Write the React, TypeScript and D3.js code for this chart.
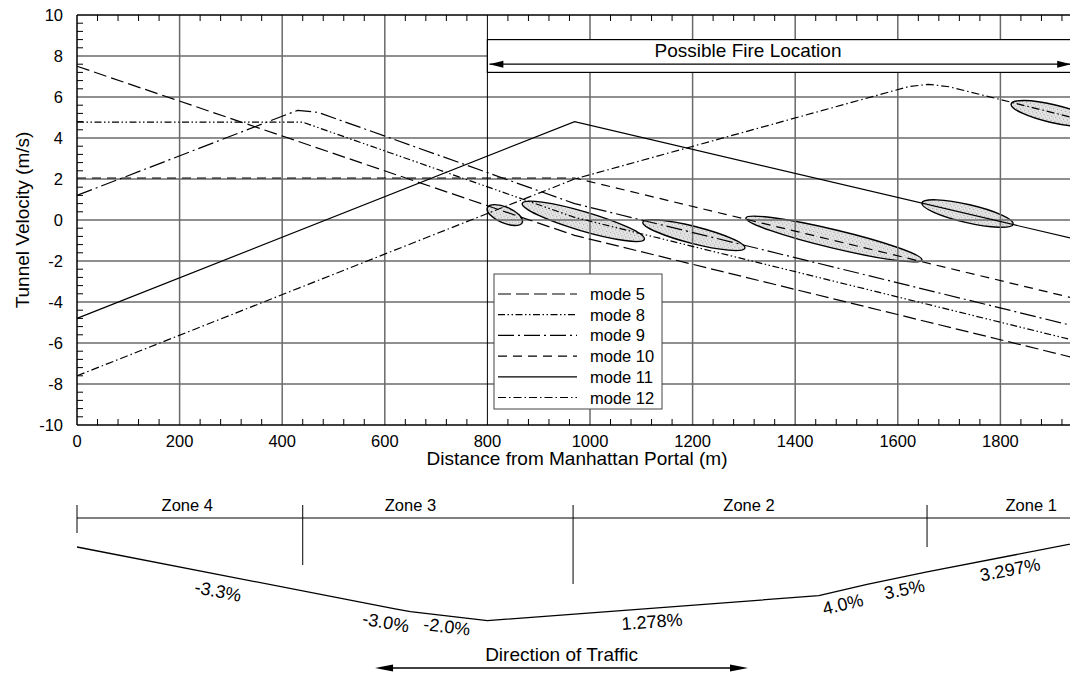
import React from 'react';
import * as d3 from 'd3';

// axis ticks
const xTicks = [0, 200, 400, 600, 800, 1000, 1200, 1400, 1600, 1800];
const yTicks = [-10, -8, -6, -4, -2, 0, 2, 4, 6, 8, 10];

// tunnel velocity per ventilation mode: [distance (m), velocity (m/s)]
const modeNames = ['mode 5', 'mode 8', 'mode 9', 'mode 10', 'mode 11', 'mode 12'];
const mode5 = [[0, 7.5], [970, -0.75], [1940, -6.7]];
const mode8 = [[0, 4.77], [440, 4.77], [970, 0.13], [1940, -5.85]];
const mode9 = [[0, 1.2], [430, 5.35], [470, 5.25], [970, 0.8], [1940, -5.15]];
const mode10 = [[0, 2.05], [970, 2.05], [1940, -3.8]];
const mode11 = [[0, -4.8], [970, 4.8], [1940, -0.9]];
const mode12 = [[0, -7.6], [970, 2.0], [1620, 6.5], [1660, 6.62], [1700, 6.5], [1940, 5.0]];
const modeData = [mode5, mode8, mode9, mode10, mode11, mode12];
const modeDash = ['13,5', '7,2.5,1.5,2.5,1.5,2.5', '16,4,2,4', '9,6', 'none', '8,3,1.5,3'];

// fire zones: two ends on a mode line [x1, v1, x2, v2] and half thickness (m/s)
const fireEllipses = [
  [800, 0.6, 868, -0.12, 0.39],
  [868, 0.81, 1106, -0.94, 0.47],
  [1103, -0.1, 1302, -1.37, 0.42],
  [1304, 0.1, 1647, -1.95, 0.45],
  [1647, 0.83, 1825, -0.2, 0.44],
  [1821, 5.66, 1981, 4.73, 0.44],
];
const fireRange = [800, 1950];

// tunnel profile below the chart
const zoneBounds = [0, 440, 967, 1657];
const zoneNames = ['Zone 4', 'Zone 3', 'Zone 2', 'Zone 1'];
const zoneLabelAt = [215, 650, 1310, 1860];
const gradeStations = [0, 620, 650, 800, 1446, 1540, 1657, 1950];
const grades = [-3.3, -3.0, -2.0, 1.278, 4.0, 3.5, 3.297];
const gradeLabels = ['-3.3%', '-3.0%', '-2.0%', '1.278%', '4.0%', '3.5%', '3.297%'];
const gradeLabelAt = [275, 602, 721, 1121, 1493, 1613, 1819];
const gradeLabelDrop = [23, 21.5, 17, 19.5, 20.5, 19, 20];
const trafficRange = [581, 1308];

const FONT = 'Arial, "Liberation Sans", Helvetica, sans-serif';
const VEX = 5.894; // vertical exaggeration of the profile sketch

function arrowHead(px: number, py: number, dir: number, len: number, half: number) {
  return `M${px},${py} L${px - dir * len},${py - half} L${px - dir * len},${py + half} Z`;
}

export default function App() {
  const W = 1070;
  const H = 674;
  const x = d3.scaleLinear().domain([0, 2000]).range([77, 1103]);
  const y = d3.scaleLinear().domain([-10, 10]).range([425, 15]);
  const line = d3.line<number[]>().x(d => x(d[0])).y(d => y(d[1]));

  const left = x(0);
  const right = W;
  const top = y(10);
  const bottom = y(-10);

  const minorX = d3.range(0, 2000, 40).filter(v => v % 200 !== 0);
  const minorY = d3.range(0, 51).map(i => -10 + i * 0.4).filter(v => Math.abs(v / 2 - Math.round(v / 2)) > 0.01);

  // profile points
  const profileY0 = 547;
  const prof: number[][] = [];
  let py = profileY0;
  gradeStations.forEach((s, i) => {
    if (i > 0) {
      const dx = x(s) - x(gradeStations[i - 1]);
      py -= (grades[i - 1] / 100) * dx * VEX;
    }
    prof.push([x(s), py]);
  });
  const profAt = (px: number) => {
    for (let i = 1; i < prof.length; i++) {
      if (px <= prof[i][0]) {
        const t = (px - prof[i - 1][0]) / (prof[i][0] - prof[i - 1][0]);
        return prof[i - 1][1] + t * (prof[i][1] - prof[i - 1][1]);
      }
    }
    return prof[prof.length - 1][1];
  };

  const zoneLineY = 518;
  const zoneStubTop = 505;
  const zoneStubEnd = [533, 565, 584, 547];

  const fireTop = y(8.8);
  const fireBot = y(7.2);
  const fireArrowY = y(7.6);

  const legX = 494, legY = 274, legW = 168, legH = 135;

  return (
    <svg width={W} height={H} style={{ position: 'absolute', left: 0, top: 0, background: '#fff' }} fontFamily={FONT}>
      <defs>
        <pattern id="stipple" width="4" height="4" patternUnits="userSpaceOnUse">
          <rect width="4" height="4" fill="#e2e2e2" />
          <rect x="0" y="0" width="1" height="1" fill="#9c9c9c" />
          <rect x="2" y="2" width="1" height="1" fill="#b4b4b4" />
          <rect x="3" y="1" width="1" height="1" fill="#f4f4f4" />
        </pattern>
      </defs>

      {/* fire zones */}
      {fireEllipses.map((e, i) => {
        const x1 = x(e[0]), y1 = y(e[1]), x2 = x(e[2]), y2 = y(e[3]);
        const cx = (x1 + x2) / 2, cy = (y1 + y2) / 2;
        const rx = Math.hypot(x2 - x1, y2 - y1) / 2;
        const ry = y(0) - y(e[4]);
        const ang = (Math.atan2(y2 - y1, x2 - x1) * 180) / Math.PI;
        return (
          <ellipse key={i} cx={cx} cy={cy} rx={rx} ry={ry} transform={`rotate(${ang},${cx},${cy})`}
            fill="url(#stipple)" stroke="#000" strokeWidth={1.4} />
        );
      })}

      {/* grid */}
      {yTicks.filter(v => v > -10 && v < 10).map(v => (
        <line key={'gy' + v} x1={left} x2={right} y1={y(v)} y2={y(v)} stroke="#6a6a6a" strokeWidth={1.5} />
      ))}
      {xTicks.filter(v => v > 0).map(v => (
        <line key={'gx' + v} x1={x(v)} x2={x(v)} y1={top} y2={bottom}
          stroke={v === fireRange[0] ? '#000' : '#6a6a6a'} strokeWidth={v === fireRange[0] ? 1 : 1.5} />
      ))}

      {/* minor ticks */}
      {minorX.map(v => (
        <g key={'mx' + v}>
          <line x1={x(v)} x2={x(v)} y1={bottom} y2={bottom - 6} stroke="#000" />
          <line x1={x(v)} x2={x(v)} y1={top} y2={top + 6} stroke="#000" />
        </g>
      ))}
      {minorY.map(v => (
        <line key={'my' + v} x1={left} x2={left + 6} y1={y(v)} y2={y(v)} stroke="#000" />
      ))}

      {/* frame */}
      <line x1={left} x2={left} y1={top} y2={bottom} stroke="#000" strokeWidth={1.5} />
      <line x1={left} x2={right} y1={top} y2={top} stroke="#000" strokeWidth={1.5} />
      <line x1={left} x2={right} y1={bottom} y2={bottom} stroke="#000" strokeWidth={1.5} />

      {/* mode lines */}
      {modeData.map((d, i) => (
        <path key={'m' + i} d={line(d) || ''} fill="none" stroke="#000" strokeWidth={1.2}
          strokeDasharray={modeDash[i]} />
      ))}

      {/* possible fire location */}
      <rect x={x(fireRange[0])} y={fireTop} width={x(fireRange[1]) - x(fireRange[0])} height={fireBot - fireTop}
        fill="#fff" stroke="#000" strokeWidth={1.2} />
      <line x1={x(fireRange[0]) + 2} x2={x(1938)} y1={fireArrowY} y2={fireArrowY} stroke="#000" strokeWidth={1.3} />
      <path d={arrowHead(x(fireRange[0]) + 2, fireArrowY, -1, 14, 3.5)} fill="#000" />
      <path d={arrowHead(x(1938), fireArrowY, 1, 14, 3.5)} fill="#000" />
      <text x={748} y={fireTop + 17} textAnchor="middle" fontSize={19} fill="#000">Possible Fire Location</text>

      {/* legend */}
      <rect x={legX} y={legY} width={legW} height={legH} fill="#fff" stroke="#444" strokeWidth={1} />
      {modeNames.map((n, i) => {
        const ly = legY + 20 + i * 20.7;
        return (
          <g key={'l' + i}>
            <line x1={legX + 4} x2={legX + 83} y1={ly} y2={ly} stroke="#000" strokeWidth={1.2} strokeDasharray={modeDash[i]} />
            <text x={legX + 96} y={ly + 6} fontSize={16.5} fill="#000">{n}</text>
          </g>
        );
      })}

      {/* tick labels */}
      {yTicks.map(v => (
        <text key={'ty' + v} x={63} y={y(v) + 6} textAnchor="end" fontSize={16.5} fill="#000">{v}</text>
      ))}
      {xTicks.map(v => (
        <text key={'tx' + v} x={x(v)} y={447} textAnchor="middle" fontSize={16.5} fill="#000">{v}</text>
      ))}

      {/* axis titles */}
      <text transform={`translate(29,${(top + bottom) / 2}) rotate(-90)`} textAnchor="middle" fontSize={19} fill="#000">
        Tunnel Velocity (m/s)
      </text>
      <text x={577} y={465} textAnchor="middle" fontSize={19} fill="#000">Distance from Manhattan Portal (m)</text>

      {/* zones */}
      <line x1={left} x2={right} y1={zoneLineY} y2={zoneLineY} stroke="#000" strokeWidth={1} />
      {zoneBounds.map((b, i) => (
        <line key={'zb' + i} x1={x(b)} x2={x(b)} y1={zoneStubTop} y2={zoneStubEnd[i]} stroke="#000" strokeWidth={1} />
      ))}
      {zoneNames.map((n, i) => (
        <text key={'zn' + i} x={x(zoneLabelAt[i])} y={zoneLineY - 7} textAnchor="middle" fontSize={16.5} fill="#000">{n}</text>
      ))}

      {/* profile */}
      <path d={d3.line()(prof as [number, number][]) || ''} fill="none" stroke="#000" strokeWidth={1.3} />
      {gradeLabels.map((g, i) => {
        const lx = x(gradeLabelAt[i]);
        const ly = profAt(lx) + gradeLabelDrop[i];
        const ang = (-Math.atan((grades[i] / 100) * VEX) * 180) / Math.PI;
        return (
          <text key={'g' + i} x={lx} y={ly} textAnchor="middle" fontSize={18} fill="#000"
            transform={`rotate(${ang},${lx},${ly - 6})`}>{g}</text>
        );
      })}

      {/* direction of traffic */}
      <text x={(x(trafficRange[0]) + x(trafficRange[1])) / 2} y={661} textAnchor="middle" fontSize={19} fill="#000">
        Direction of Traffic
      </text>
      <line x1={x(trafficRange[0]) + 10} x2={x(trafficRange[1]) - 10} y1={668} y2={668} stroke="#000" strokeWidth={1.3} />
      <path d={arrowHead(x(trafficRange[0]), 668, -1, 18, 3.5)} fill="#000" />
      <path d={arrowHead(x(trafficRange[1]), 668, 1, 18, 3.5)} fill="#000" />
    </svg>
  );
}
